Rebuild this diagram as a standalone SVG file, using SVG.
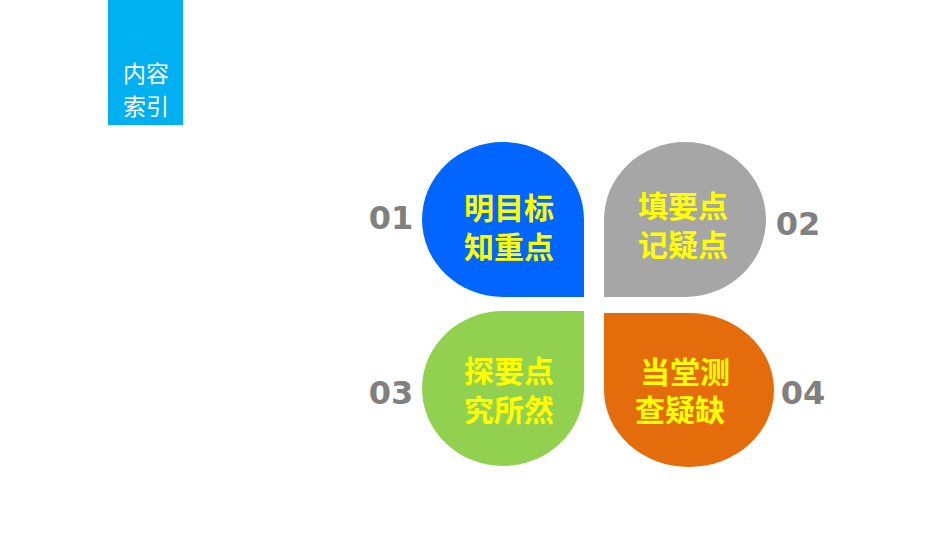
<svg xmlns="http://www.w3.org/2000/svg" width="950" height="535" viewBox="0 0 950 535">
<style>
.t{font-family:"Noto Sans CJK SC","Liberation Sans",sans-serif;font-weight:bold;font-size:30px;fill:#ffff00;text-anchor:middle}
.n{font-family:"DejaVu Sans","Liberation Sans",sans-serif;font-weight:bold;font-size:32px;fill:#808080;text-anchor:middle}
.h{font-family:"Noto Sans CJK SC","Liberation Sans",sans-serif;font-size:23px;fill:#fff;text-anchor:middle}
</style>
<rect width="950" height="535" fill="#fff"/>
<g id="header"><rect x="108" y="0" width="75" height="125" fill="#00b0f0"/>
<text class="h" x="146" y="82">内容</text><text class="h" x="146" y="115">索引</text></g>
<g id="n1"><path d="M503,142 A81,77.5 0 0 0 422,219.5 A81,77.5 0 0 0 503,297 L584,297 L584,219.5 A81,77.5 0 0 0 503,142 Z" fill="#0066ff"/>
<text class="t" x="509" y="219">明目标</text><text class="t" x="509" y="258">知重点</text>
<text class="n" x="391" y="229">01</text></g>
<g id="n2"><path d="M685,142 A81,77.5 0 0 1 766,219.5 A81,77.5 0 0 1 685,297 L604,297 L604,219.5 A81,77.5 0 0 1 685,142 Z" fill="#a6a6a6"/>
<text class="t" x="683" y="217">填要点</text><text class="t" x="683" y="256">记疑点</text>
<text class="n" x="798" y="235">02</text></g>
<g id="n3"><path d="M584,311 L584,388.5 A81,77.5 0 0 1 503,466 A81,77.5 0 0 1 422,388.5 A81,77.5 0 0 1 503,311 Z" fill="#92d050"/>
<text class="t" x="509" y="382">探要点</text><text class="t" x="509" y="421">究所然</text>
<text class="n" x="391" y="404">03</text></g>
<g id="n4"><path d="M604,313 L689,313 A85,77 0 0 1 774,390 A85,77 0 0 1 689,467 A85,77 0 0 1 604,390 Z" fill="#e46c0a"/>
<text class="t" x="685" y="383">当堂测</text><text class="t" x="680" y="421">查疑缺</text>
<text class="n" x="803" y="404">04</text></g>
<g id="connectors"/>
</svg>
